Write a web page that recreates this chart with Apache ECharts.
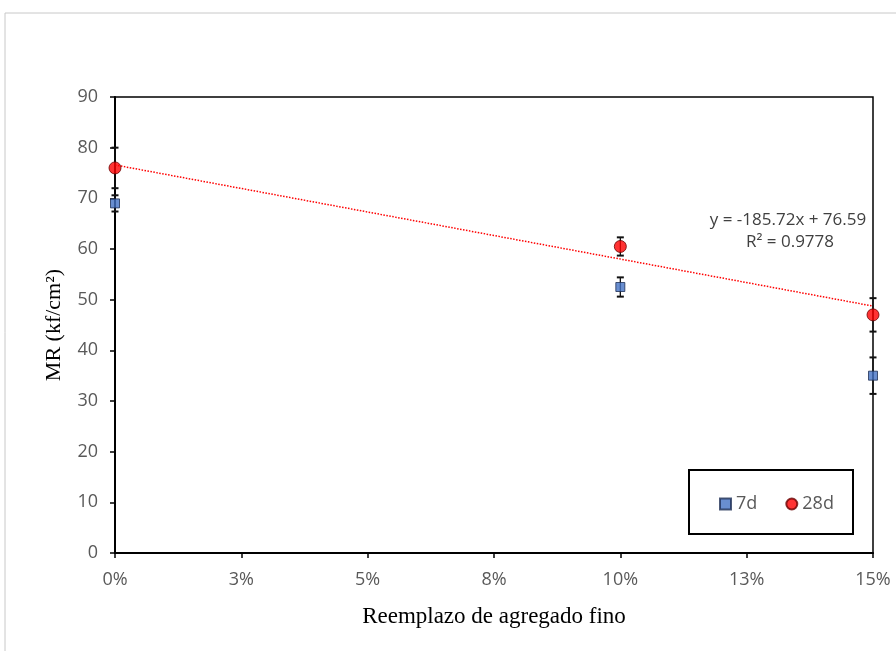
<!DOCTYPE html>
<html><head><meta charset="utf-8">
<script src="https://cdn.jsdelivr.net/npm/echarts@6/dist/echarts.min.js"></script>
<style>html,body{margin:0;padding:0;background:#fff}#c{width:896px;height:651px}</style>
</head><body><div id="c"></div>
<script>
const xTickLabels = ['0%','3%','5%','8%','10%','13%','15%'];
const replacement = [0, 0.10, 0.15];
const mr7d = [69.0, 52.5, 35.0];
const err7d = [1.6, 1.9, 3.6];
const mr28d = [76.0, 60.5, 47.0];
const err28d = [4.0, 1.8, 3.3];
const trendX = [0, 0.15];
const trendY = [76.59, 48.73];
const equationLines = ['y = -185.72x + 76.59', 'R² = 0.9778'];

const chart = echarts.init(document.getElementById('c'));
const pts = (xs, ys) => xs.map((x, i) => [x, ys[i]]);
const errData = (xs, ys, es) => xs.map((x, i) => [x, ys[i] - es[i], ys[i] + es[i]]);
function renderErr(params, api) {
  const x = api.value(0), lo = api.value(1), hi = api.value(2);
  const a = api.coord([x, hi]), b = api.coord([x, lo]);
  const w = 3.5;
  const st = {stroke: '#111', lineWidth: 1.3};
  const cap = {stroke: '#111', lineWidth: 2};
  return {type: 'group', children: [
    {type: 'line', shape: {x1: a[0], y1: a[1], x2: b[0], y2: b[1]}, style: st},
    {type: 'line', shape: {x1: a[0]-w, y1: a[1], x2: a[0]+w, y2: a[1]}, style: cap},
    {type: 'line', shape: {x1: b[0]-w, y1: b[1], x2: b[0]+w, y2: b[1]}, style: cap}
  ]};
}
const labelFont = {color: '#595959', fontFamily: 'Open Sans', fontSize: 18};
chart.setOption({
  animation: false,
  grid: {left: 115, right: 23, top: 97, bottom: 98, show: true, borderColor: '#000', borderWidth: 1.5},
  xAxis: {
    type: 'value', min: 0, max: 0.15, interval: 0.025,
    axisLine: {show: true, lineStyle: {color: '#000', width: 2}},
    axisTick: {show: true, length: 5, lineStyle: {color: '#000', width: 1.5}},
    splitLine: {show: false},
    axisLabel: Object.assign({margin: 18, formatter: v => xTickLabels[Math.round(v / 0.025)]}, labelFont),
    name: 'Reemplazo de agregado fino', nameLocation: 'middle', nameGap: 52,
    nameTextStyle: {fontFamily: 'Liberation Serif', fontSize: 23, color: '#000'}
  },
  yAxis: {
    type: 'value', min: 0, max: 90, interval: 10,
    axisLine: {show: true, lineStyle: {color: '#000', width: 2}},
    axisTick: {show: true, length: 5, lineStyle: {color: '#000', width: 1.5}},
    splitLine: {show: false},
    axisLabel: Object.assign({margin: 17}, labelFont),
    name: 'MR (kf/cm²)', nameLocation: 'middle', nameGap: 50,
    nameTextStyle: {fontFamily: 'Liberation Serif', fontSize: 22, color: '#000'}
  },
  legend: {
    data: ['7d', '28d'], left: 714, top: 490, itemGap: 28, itemWidth: 11, itemHeight: 11,
    textStyle: {color: '#595959', fontFamily: 'Open Sans', fontSize: 18}
  },
  graphic: [
    {type: 'rect', shape: {x: 5, y: 13, width: 1000, height: 1000}, style: {fill: 'none', stroke: '#c8c8c8', lineWidth: 1}, z: -1},
    {type: 'rect', shape: {x: 689, y: 470, width: 164, height: 64}, style: {fill: '#fff', stroke: '#000', lineWidth: 2}, z: 1},
    {type: 'text', x: 788, y: 220, style: {text: equationLines[0], fill: '#404040', font: '17px "Open Sans"', textAlign: 'center', textVerticalAlign: 'middle'}, z: 10},
    {type: 'text', x: 790, y: 242, style: {text: equationLines[1], fill: '#404040', font: '17px "Open Sans"', textAlign: 'center', textVerticalAlign: 'middle'}, z: 10}
  ],
  series: [
    {name: 'trend', type: 'line', data: pts(trendX, trendY), symbol: 'none', silent: true,
      lineStyle: {color: '#ff0000', type: 'dotted', width: 1.5}, z: 2},
    {name: 'err7', type: 'custom', renderItem: renderErr, data: errData(replacement, mr7d, err7d), z: 3, silent: true},
    {name: 'err28', type: 'custom', renderItem: renderErr, data: errData(replacement, mr28d, err28d), z: 3, silent: true},
    {name: '7d', type: 'scatter', data: pts(replacement, mr7d), symbol: 'rect', symbolSize: 9,
      itemStyle: {color: '#4472C4', borderColor: '#1f2f55', borderWidth: 1}, z: 5},
    {name: '28d', type: 'scatter', data: pts(replacement, mr28d), symbol: 'circle', symbolSize: 12,
      itemStyle: {color: '#ff0000', borderColor: '#6a0000', borderWidth: 1}, z: 5}
  ]
});
</script></body></html>
